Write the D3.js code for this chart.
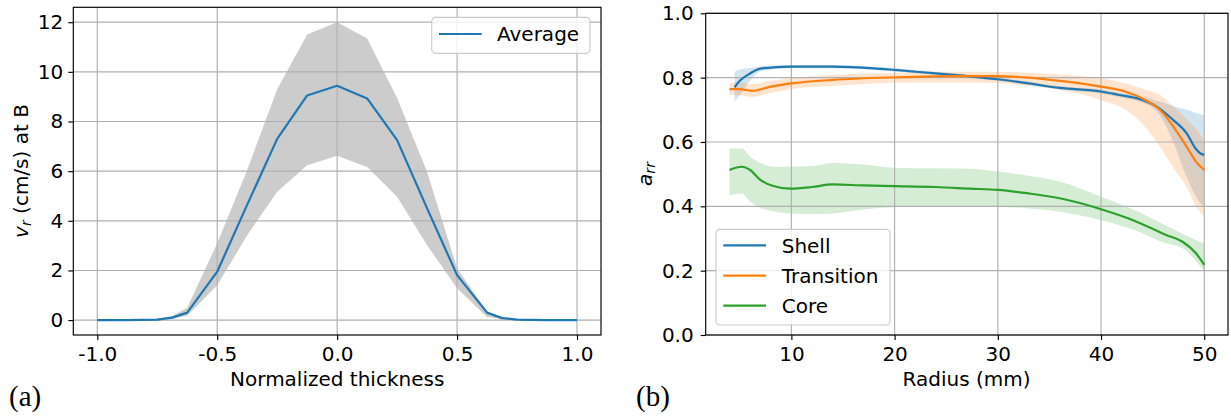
<!DOCTYPE html>
<html>
<head>
<meta charset="utf-8">
<script src="https://cdn.jsdelivr.net/npm/d3@7"></script>
<style>
body { margin: 0; background: #fff; }
svg { display: block; }
.tick text { font-family: "DejaVu Sans", sans-serif; font-size: 20px; fill: #000; }
.tick line { stroke: #000; stroke-width: 1.15; }
</style>
</head>
<body>
<svg id="fig" width="1231" height="416"></svg>
<script>
// PANEL (a) DATA: velocity profile across thickness
const thickX = [-1, -0.875, -0.75, -0.6875, -0.625, -0.5, -0.375, -0.25, -0.125, 0, 0.125, 0.25, 0.375, 0.5, 0.625, 0.6875, 0.75, 0.875, 1];
const avgV   = [0, 0, 0.02, 0.1, 0.3, 1.95, 4.65, 7.3, 9.05, 9.44, 8.93, 7.25, 4.5, 1.81, 0.3, 0.08, 0.02, 0, 0];
const upperV = [0, 0, 0.03, 0.17, 0.5, 3.1, 6.05, 9.3, 11.5, 12.0, 11.34, 8.95, 5.97, 2.08, 0.35, 0.12, 0.03, 0, 0];
const lowerV = [0, 0, 0.01, 0.05, 0.18, 1.4, 3.42, 5.17, 6.24, 6.62, 6.17, 4.97, 3.02, 1.28, 0.13, 0.04, 0.01, 0, 0];
const thickTicks = [-1, -0.5, 0, 0.5, 1];
const velTicks = [0, 2, 4, 6, 8, 10, 12];

// PANEL (b) DATA: a_rr against radius
const shellR   = [4.5, 5, 6, 7, 8, 10, 14, 18, 20, 24, 27, 30, 33, 36, 40, 41.8, 43.7, 45.4, 47, 48.3, 49.2, 49.6, 50];
const shellA   = [0.770, 0.79, 0.813, 0.828, 0.831, 0.834, 0.834, 0.829, 0.824, 0.813, 0.805, 0.795, 0.782, 0.768, 0.757, 0.746, 0.734, 0.71, 0.668, 0.627, 0.578, 0.565, 0.56];
const shellLo  = [0.725, 0.745, 0.79, 0.82, 0.825, 0.829, 0.829, 0.824, 0.819, 0.808, 0.80, 0.79, 0.777, 0.763, 0.751, 0.739, 0.725, 0.695, 0.60, 0.49, 0.43, 0.41, 0.40];
const shellHi  = [0.818, 0.825, 0.83, 0.835, 0.837, 0.839, 0.839, 0.834, 0.829, 0.818, 0.81, 0.80, 0.787, 0.773, 0.763, 0.753, 0.743, 0.728, 0.712, 0.70, 0.69, 0.686, 0.684];

const transR   = [4, 5, 6.2, 8, 10, 14, 20, 24, 27.3, 30, 33, 36, 40, 42.4, 44.3, 45.7, 47, 48.3, 49.2, 50];
const transA   = [0.764, 0.764, 0.759, 0.772, 0.782, 0.793, 0.801, 0.804, 0.805, 0.805, 0.80, 0.79, 0.772, 0.756, 0.73, 0.70, 0.648, 0.585, 0.539, 0.513];
const transLo  = [0.746, 0.745, 0.74, 0.752, 0.765, 0.774, 0.784, 0.785, 0.785, 0.783, 0.775, 0.762, 0.73, 0.70, 0.645, 0.585, 0.52, 0.46, 0.40, 0.368];
const transHi  = [0.782, 0.785, 0.78, 0.79, 0.798, 0.808, 0.815, 0.818, 0.818, 0.818, 0.815, 0.81, 0.798, 0.782, 0.762, 0.746, 0.71, 0.67, 0.64, 0.606];

const coreR    = [4, 5.2, 6, 7, 8.25, 9.9, 12, 14, 17, 20, 24, 27.3, 30, 33, 36, 40, 43.1, 46.3, 47.9, 49.2, 50];
const coreA    = [0.513, 0.523, 0.513, 0.482, 0.463, 0.455, 0.46, 0.468, 0.465, 0.463, 0.46, 0.455, 0.451, 0.44, 0.425, 0.391, 0.357, 0.311, 0.29, 0.254, 0.218];
const coreLo   = [0.435, 0.44, 0.415, 0.395, 0.385, 0.378, 0.376, 0.378, 0.39, 0.398, 0.40, 0.40, 0.399, 0.393, 0.383, 0.357, 0.328, 0.285, 0.27, 0.23, 0.197];
const coreHi   = [0.58, 0.58, 0.554, 0.535, 0.523, 0.523, 0.525, 0.535, 0.53, 0.52, 0.518, 0.517, 0.508, 0.495, 0.477, 0.43, 0.39, 0.34, 0.315, 0.295, 0.285];

const radiusTicks = [10, 20, 30, 40, 50];
const arrTicks = [0, 0.2, 0.4, 0.6, 0.8, 1.0];

const seriesNames = ["Shell", "Transition", "Core"];
const seriesColors = ["#1f77b4", "#ff7f0e", "#2ca02c"];

const FONT = "DejaVu Sans, sans-serif";
const svg = d3.select("#fig");

//SCALES
const xL = d3.scaleLinear().domain([-1.1, 1.1]).range([73.3, 601]);
const yL = d3.scaleLinear().domain([-0.6, 12.6]).range([335, 7.3]);
const xR = d3.scaleLinear().domain([1.7, 52.3]).range([705.7, 1228]);
const yR = d3.scaleLinear().domain([0, 1]).range([335, 13.3]);

// helper: zip arrays into point objects
const zip = (xs, ys, lo, hi) => xs.map((x, i) => ({ x: x, y: ys[i], lo: lo[i], hi: hi[i] }));

function drawGrid(g, xs, ys, xt, yt) {
    g.selectAll(null).data(xt).enter().append("line")
        .attr("x1", d => xs(d)).attr("x2", d => xs(d))
        .attr("y1", ys.range()[0]).attr("y2", ys.range()[1])
        .attr("stroke", "#b0b0b0").attr("stroke-width", 1.15);
    g.selectAll(null).data(yt).enter().append("line")
        .attr("y1", d => ys(d)).attr("y2", d => ys(d))
        .attr("x1", xs.range()[0]).attr("x2", xs.range()[1])
        .attr("stroke", "#b0b0b0").attr("stroke-width", 1.15);
}

function drawAxes(xs, ys, xt, yt, xfmt, yfmt, ypad) {
    const xa = svg.append("g")
        .attr("transform", `translate(0,${ys.range()[0]})`)
        .call(d3.axisBottom(xs).tickValues(xt).tickFormat(xfmt).tickSize(5).tickPadding(6.5));
    xa.select(".domain").remove();
    const ya = svg.append("g")
        .attr("transform", `translate(${xs.range()[0]},0)`)
        .call(d3.axisLeft(ys).tickValues(yt).tickFormat(yfmt).tickSize(5).tickPadding(ypad));
    ya.select(".domain").remove();
    // spines
    svg.append("rect")
        .attr("x", xs.range()[0]).attr("y", ys.range()[1])
        .attr("width", xs.range()[1] - xs.range()[0])
        .attr("height", ys.range()[0] - ys.range()[1])
        .attr("fill", "none").attr("stroke", "#000").attr("stroke-width", 1.15);
}

// ===== PANEL (a) =====
const ptsL = zip(thickX, avgV, lowerV, upperV);
svg.append("path")
    .datum(ptsL)
    .attr("fill", "gray").attr("fill-opacity", 0.4)
    .attr("d", d3.area().x(d => xL(d.x)).y0(d => yL(d.lo)).y1(d => yL(d.hi)));

drawGrid(svg.append("g"), xL, yL, thickTicks, velTicks);

svg.append("path")
    .datum(ptsL)
    .attr("fill", "none").attr("stroke", "#1f77b4").attr("stroke-width", 2.2)
    .attr("stroke-linejoin", "round")
    .attr("d", d3.line().x(d => xL(d.x)).y(d => yL(d.y)));

drawAxes(xL, yL, thickTicks, velTicks, d => d.toFixed(1), d => String(d), 5);

// legend (a)
const legA = svg.append("g");
legA.append("rect")
    .attr("x", 431.7).attr("y", 17.3).attr("width", 158.3).attr("height", 36)
    .attr("rx", 4).attr("fill", "#fff").attr("fill-opacity", 0.8)
    .attr("stroke", "#cccccc").attr("stroke-width", 1.15);
legA.append("line")
    .attr("x1", 439).attr("x2", 481.7).attr("y1", 34).attr("y2", 34)
    .attr("stroke", "#1f77b4").attr("stroke-width", 2.2);
legA.append("text")
    .attr("x", 497).attr("y", 41.3)
    .attr("font-family", FONT).attr("font-size", 20)
    .text("Average");

// axis labels (a)
svg.append("text")
    .attr("x", 337.2).attr("y", 385.7)
    .attr("text-anchor", "middle")
    .attr("font-family", FONT).attr("font-size", 20)
    .text("Normalized thickness");

const ylabA = svg.append("text")
    .attr("transform", "translate(28.3,171) rotate(-90)")
    .attr("text-anchor", "middle")
    .attr("font-family", FONT).attr("font-size", 20);
ylabA.append("tspan").attr("font-style", "italic").text("v");
ylabA.append("tspan").attr("font-style", "italic").attr("font-size", 14).attr("dy", 3).text("r");
ylabA.append("tspan").attr("dy", -3).text(" (cm/s) at B");

svg.append("text")
    .attr("x", 9).attr("y", 406)
    .attr("font-family", "Liberation Serif, serif").attr("font-size", 29)
    .text("(a)");

// ===== PANEL (b) =====
const seriesR = [
    zip(shellR, shellA, shellLo, shellHi),
    zip(transR, transA, transLo, transHi),
    zip(coreR, coreA, coreLo, coreHi)
];

const bandR = d3.area().x(d => xR(d.x)).y0(d => yR(d.lo)).y1(d => yR(d.hi)).curve(d3.curveMonotoneX);
const lineR = d3.line().x(d => xR(d.x)).y(d => yR(d.y)).curve(d3.curveMonotoneX);

svg.selectAll("path.bandR")
    .data(seriesR)
    .enter().append("path")
    .attr("class", "bandR")
    .attr("fill", (d, i) => seriesColors[i]).attr("fill-opacity", 0.2)
    .attr("d", bandR);

drawGrid(svg.append("g"), xR, yR, radiusTicks, arrTicks);

svg.selectAll("path.lineR")
    .data(seriesR)
    .enter().append("path")
    .attr("class", "lineR")
    .attr("fill", "none")
    .attr("stroke", (d, i) => seriesColors[i]).attr("stroke-width", 2.2)
    .attr("d", lineR);

drawAxes(xR, yR, radiusTicks, arrTicks, d => String(d), d => d.toFixed(1), 7);

// legend (b)
const legB = svg.append("g");
legB.append("rect")
    .attr("x", 716).attr("y", 229.3).attr("width", 174).attr("height", 95.7)
    .attr("rx", 4).attr("fill", "#fff").attr("fill-opacity", 0.8)
    .attr("stroke", "#cccccc").attr("stroke-width", 1.15);
const legRows = [245.3, 275.7, 305.7];
seriesNames.forEach((name, i) => {
    legB.append("line")
        .attr("x1", 723.3).attr("x2", 766).attr("y1", legRows[i]).attr("y2", legRows[i])
        .attr("stroke", seriesColors[i]).attr("stroke-width", 2.2);
    legB.append("text")
        .attr("x", 781.7).attr("y", legRows[i] + 7.3)
        .attr("font-family", FONT).attr("font-size", 20)
        .text(name);
});

// axis labels (b)
svg.append("text")
    .attr("x", 966.5).attr("y", 385.7)
    .attr("text-anchor", "middle")
    .attr("font-family", FONT).attr("font-size", 20)
    .text("Radius (mm)");

const ylabB = svg.append("text")
    .attr("transform", "translate(651.7,174) rotate(-90)")
    .attr("text-anchor", "middle")
    .attr("font-family", FONT).attr("font-size", 20);
ylabB.append("tspan").attr("font-style", "italic").text("a");
ylabB.append("tspan").attr("font-style", "italic").attr("font-size", 14).attr("dy", 3).text("rr");

svg.append("text")
    .attr("x", 636).attr("y", 406)
    .attr("font-family", "Liberation Serif, serif").attr("font-size", 29)
    .text("(b)");
</script>
</body>
</html>
